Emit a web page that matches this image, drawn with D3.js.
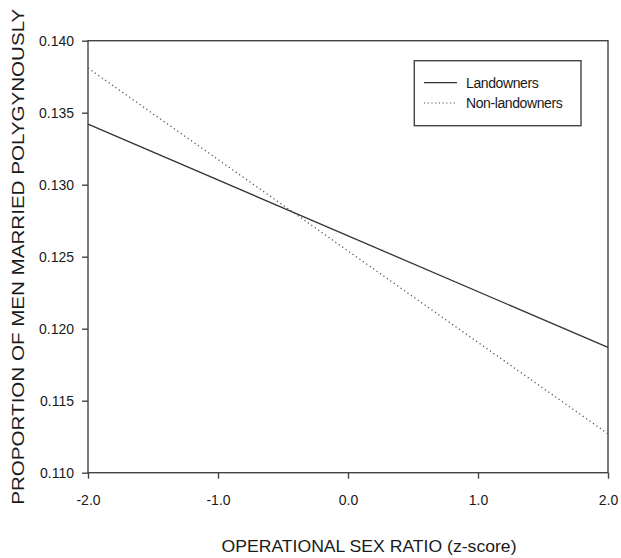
<!DOCTYPE html>
<html>
<head>
<meta charset="utf-8">
<script src="https://cdn.jsdelivr.net/npm/d3@7"></script>
<style>
  body { margin: 0; background: #fff; }
  text { font-family: "Liberation Sans", Arial, sans-serif; fill: #1a1a1a; }
</style>
</head>
<body>
<svg id="chart" width="621" height="558"></svg>
<script>
// data
let xTicks = [-2, -1, 0, 1, 2];
let yTicks = [0.110, 0.115, 0.120, 0.125, 0.130, 0.135, 0.140];
let seriesNames = ["Landowners", "Non-landowners"];
let landowners = [[-2, 0.1342], [2, 0.1187]];
let nonLandowners = [[-2, 0.1381], [2, 0.1127]];

let svg = d3.select("#chart");

// plot area
let plotL = 88, plotR = 608, plotT = 40.7, plotB = 472.7;

let x = d3.scaleLinear().domain([-2, 2]).range([plotL, plotR]);
let y = d3.scaleLinear().domain([0.110, 0.140]).range([plotB, plotT]);

let axisColor = "#444";

// frame
svg.append("rect")
    .attr("x", plotL).attr("y", plotT)
    .attr("width", plotR - plotL).attr("height", plotB - plotT)
    .attr("fill", "none")
    .attr("stroke", axisColor)
    .attr("stroke-width", 1.4);

// y axis
let yAxis = d3.axisLeft(y)
    .tickValues(yTicks)
    .tickSize(6)
    .tickPadding(8)
    .tickFormat(d3.format(".3f"));
let gy = svg.append("g")
    .attr("transform", "translate(" + plotL + ",0)")
    .call(yAxis);
gy.select(".domain").remove();
gy.selectAll("line").attr("stroke", axisColor).attr("stroke-width", 1.4);
gy.selectAll("text").style("font-size", "14px").attr("fill", "#1a1a1a")
    .style("font-family", "'Liberation Sans', Arial, sans-serif");

// x axis
let xAxis = d3.axisBottom(x)
    .tickValues(xTicks)
    .tickSize(6)
    .tickPadding(16)
    .tickFormat(d3.format(".1f"));
let gx = svg.append("g")
    .attr("transform", "translate(0," + plotB + ")")
    .call(xAxis);
gx.select(".domain").remove();
gx.selectAll("line").attr("stroke", axisColor).attr("stroke-width", 1.4);
gx.selectAll("text").style("font-size", "14px").attr("fill", "#1a1a1a")
    .style("font-family", "'Liberation Sans', Arial, sans-serif")
    .text(d => d3.format(".1f")(d).replace("−", "-"));

// series lines
let line = d3.line()
    .x(d => x(d[0]))
    .y(d => y(d[1]));

svg.append("path")
    .attr("d", line(landowners))
    .attr("fill", "none")
    .attr("stroke", "#333")
    .attr("stroke-width", 1.3);

svg.append("path")
    .attr("d", line(nonLandowners))
    .attr("fill", "none")
    .attr("stroke", "#555")
    .attr("stroke-width", 1.3)
    .attr("stroke-dasharray", "1.2,3");

// legend
let legend = svg.append("g");
legend.append("rect")
    .attr("x", 414.3).attr("y", 60.7)
    .attr("width", 581 - 414.3).attr("height", 125.7 - 60.7)
    .attr("fill", "#fff")
    .attr("stroke", axisColor)
    .attr("stroke-width", 1.4);

let legendRows = [
    { name: seriesNames[0], y: 82.7, dash: null, color: "#333" },
    { name: seriesNames[1], y: 103, dash: "1.2,2.5", color: "#555" }
];
legendRows.forEach(r => {
    legend.append("line")
        .attr("x1", 424).attr("x2", 457)
        .attr("y1", r.y).attr("y2", r.y)
        .attr("stroke", r.color)
        .attr("stroke-width", 1.2)
        .attr("stroke-dasharray", r.dash);
    legend.append("text")
        .attr("x", 466).attr("y", r.y)
        .attr("dy", "0.35em")
        .style("font-size", "14px")
        .attr("letter-spacing", "-0.4")
        .text(r.name);
});

// axis titles
svg.append("text")
    .attr("x", 369)
    .attr("y", 546)
    .attr("dy", "0.35em")
    .attr("text-anchor", "middle")
    .style("font-size", "17px")
    .attr("textLength", 295)
    .attr("lengthAdjust", "spacingAndGlyphs")
    .text("OPERATIONAL SEX RATIO (z-score)");

svg.append("text")
    .attr("transform", "translate(18.5," + ((plotT + plotB) / 2) + ") rotate(-90)")
    .attr("dy", "0.35em")
    .attr("text-anchor", "middle")
    .style("font-size", "17px")
    .attr("textLength", 496)
    .attr("lengthAdjust", "spacingAndGlyphs")
    .text("PROPORTION OF MEN MARRIED POLYGYNOUSLY");
</script>
</body>
</html>
